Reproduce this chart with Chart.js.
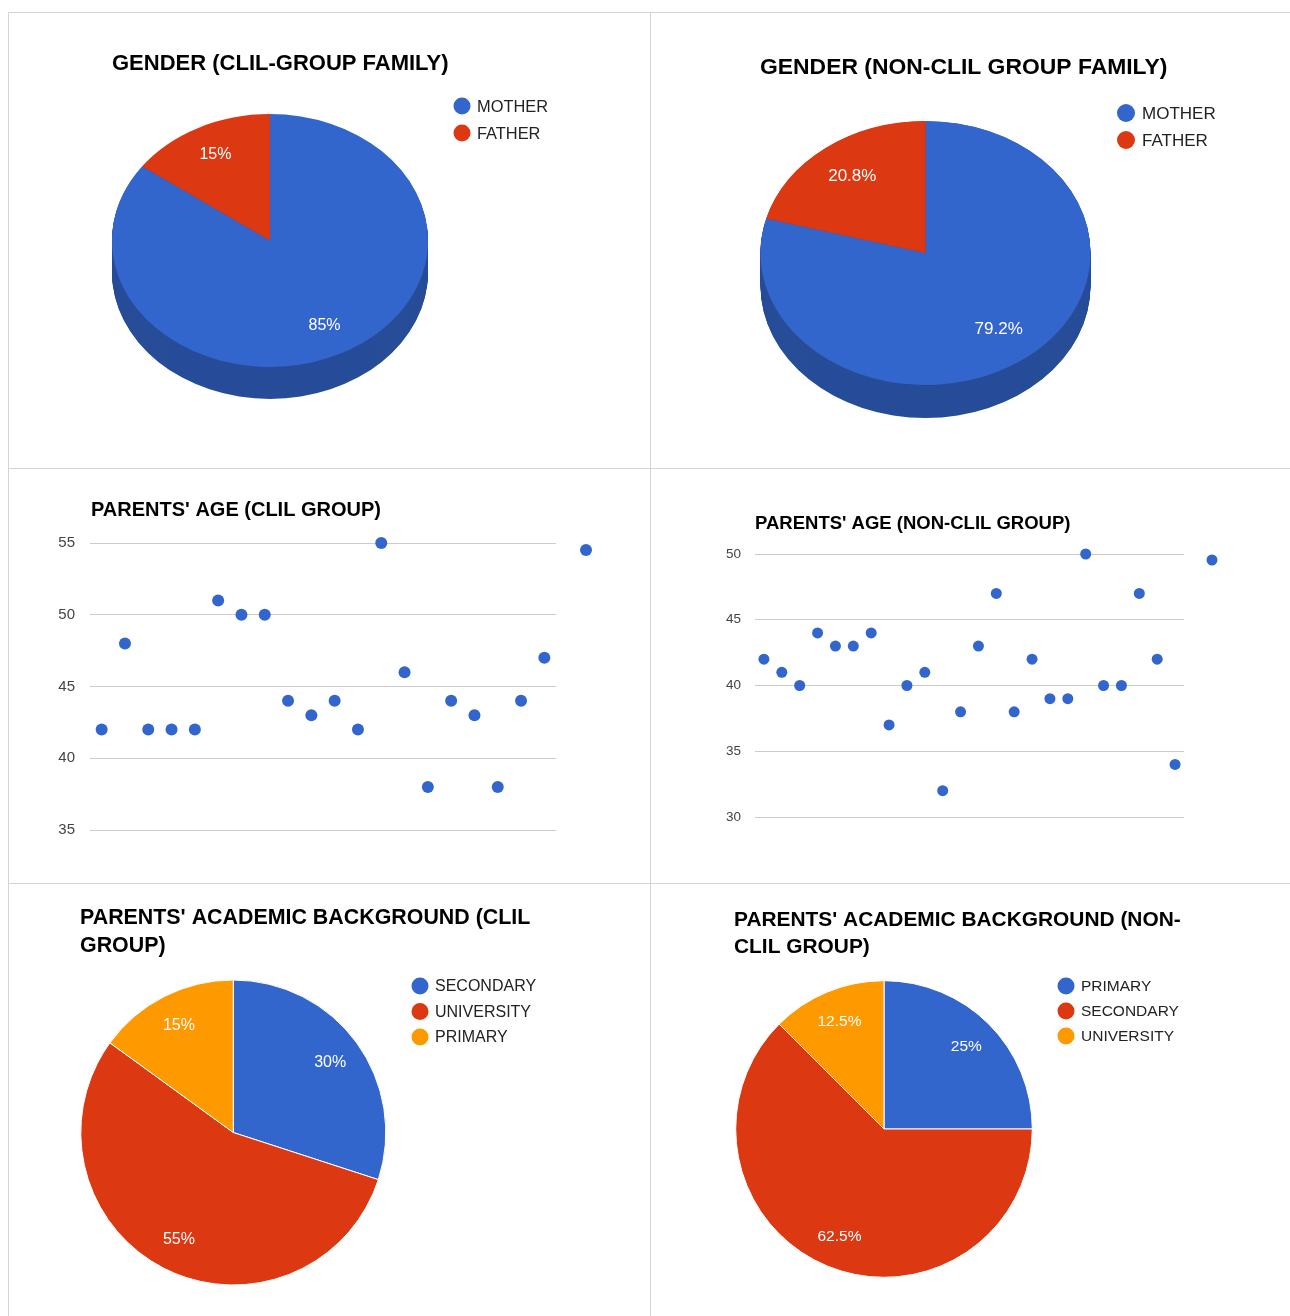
<!DOCTYPE html>
<html>
<head>
<meta charset="utf-8">
<script src="https://cdn.jsdelivr.net/npm/chart.js@4.4.1/dist/chart.umd.min.js"></script>
<style>
  body { margin: 0; background: #fff; }
  #page { position: relative; width: 1290px; height: 1316px; overflow: hidden; }
  .cell { position: absolute; }
  .line { position: absolute; background: #d4d4d4; z-index: 2; }
</style>
</head>
<body>
<div id="page">
  <div class="cell" style="left:8px;top:12px"><canvas id="genderClil" width="642" height="456"></canvas></div>
  <div class="cell" style="left:650px;top:12px"><canvas id="genderNonClil" width="640" height="456"></canvas></div>
  <div class="cell" style="left:8px;top:468px"><canvas id="ageClil" width="642" height="415"></canvas></div>
  <div class="cell" style="left:650px;top:468px"><canvas id="ageNonClil" width="640" height="415"></canvas></div>
  <div class="cell" style="left:8px;top:883px"><canvas id="eduClil" width="642" height="433"></canvas></div>
  <div class="cell" style="left:650px;top:883px"><canvas id="eduNonClil" width="640" height="433"></canvas></div>

  <div class="line" style="left:8px;top:12px;width:1282px;height:1px"></div>
  <div class="line" style="left:8px;top:468px;width:1282px;height:1px"></div>
  <div class="line" style="left:8px;top:883px;width:1282px;height:1px"></div>
  <div class="line" style="left:8px;top:12px;width:1px;height:1304px"></div>
  <div class="line" style="left:650px;top:12px;width:1px;height:1304px"></div>
</div>

<script>
// ---- data ----
const genderLabels = ["MOTHER", "FATHER"];
const genderClil = [85, 15];
const genderNonClil = [79.2, 20.8];

const ageClil = [42, 48, 42, 42, 42, 51, 50, 50, 44, 43, 44, 42, 55, 46, 38, 44, 43, 38, 44, 47];
const ageNonClil = [42, 41, 40, 44, 43, 43, 44, 37, 40, 41, 32, 38, 43, 47, 38, 42, 39, 39, 50, 40, 40, 47, 42, 34];
const ageClilTicks = [35, 40, 45, 50, 55];
const ageNonClilTicks = [30, 35, 40, 45, 50];

const eduClilLabels = ["SECONDARY", "UNIVERSITY", "PRIMARY"];
const eduClil = [30, 55, 15];
const eduNonClilLabels = ["PRIMARY", "SECONDARY", "UNIVERSITY"];
const eduNonClil = [25, 62.5, 12.5];

const BLUE = "#3366cc";
const RED = "#dc3912";
const ORANGE = "#ff9900";
const FONT = "'Liberation Sans', Arial, sans-serif";

// title drawn at a fixed spot, like the google chart header
const gTitle = {
  id: "gTitle",
  afterDraw(chart, args, o) {
    const ctx = chart.ctx;
    ctx.save();
    ctx.font = "bold " + o.size + "px " + FONT;
    ctx.fillStyle = "#000";
    ctx.textAlign = "left";
    ctx.textBaseline = "middle";
    o.lines.forEach((t, i) => ctx.fillText(t, o.x, o.y + i * (o.lineHeight || 0)));
    ctx.restore();
  }
};

// round-dot legend
const gLegend = {
  id: "gLegend",
  afterDraw(chart, args, o) {
    const ctx = chart.ctx;
    const ds = chart.data.datasets[0];
    let items;
    if (chart.config.type === "pie") {
      items = chart.data.labels.map((t, i) => ({ text: t, color: ds.backgroundColor[i] }));
    } else {
      items = chart.data.datasets.map(d => ({ text: d.label, color: d.backgroundColor }));
    }
    ctx.save();
    ctx.font = o.size + "px " + FONT;
    ctx.textBaseline = "middle";
    items.forEach((it, i) => {
      const y = o.y + i * (o.gap || 0);
      ctx.fillStyle = it.color;
      ctx.beginPath();
      ctx.arc(o.x, y, o.r, 0, Math.PI * 2);
      ctx.fill();
      ctx.fillStyle = "#222";
      ctx.fillText(it.text, o.x + o.textGap, y + 1);
    });
    ctx.restore();
  }
};

// squash the pie into an ellipse and give it a dark side
const pie3d = {
  id: "pie3d",
  beforeDatasetsDraw(chart, args, o) {
    if (!o.squash) return;
    const ctx = chart.ctx;
    const arcs = chart.getDatasetMeta(0).data;
    const cy = arcs[0].y;
    ctx.save();
    ctx.translate(0, cy);
    ctx.scale(1, o.squash);
    ctx.translate(0, -cy);
    const depth = o.depth / o.squash;
    for (let d = depth; d > 0; d -= 1) {
      arcs.forEach((a, i) => {
        ctx.fillStyle = o.sideColors[i];
        ctx.beginPath();
        ctx.moveTo(a.x, a.y + d);
        ctx.arc(a.x, a.y + d, a.outerRadius, a.startAngle, a.endAngle);
        ctx.closePath();
        ctx.fill();
      });
    }
  },
  afterDatasetsDraw(chart, args, o) {
    if (o.squash) chart.ctx.restore();
  }
};

// percentage text inside slices
const sliceLabels = {
  id: "sliceLabels",
  afterDraw(chart, args, o) {
    const ctx = chart.ctx;
    const arcs = chart.getDatasetMeta(0).data;
    const data = chart.data.datasets[0].data;
    const total = data.reduce((a, b) => a + b, 0);
    const squash = o.squash || 1;
    ctx.save();
    ctx.font = o.size + "px " + FONT;
    ctx.fillStyle = "#fff";
    ctx.textAlign = "center";
    ctx.textBaseline = "middle";
    arcs.forEach((a, i) => {
      const mid = (a.startAngle + a.endAngle) / 2;
      const r = a.outerRadius * o.k;
      const x = a.x + Math.cos(mid) * r;
      const y = a.y + Math.sin(mid) * r * squash;
      ctx.fillText(+(data[i] / total * 100).toFixed(1) + "%", x, y);
    });
    ctx.restore();
  }
};

function pieChart(id, labels, values, colors, padding, extra) {
  return new Chart(document.getElementById(id), {
    type: "pie",
    data: {
      labels: labels,
      datasets: [{
        data: values,
        backgroundColor: colors,
        borderColor: "#fff",
        borderWidth: extra.border,
        hoverOffset: 0,
        hoverBorderWidth: 0
      }]
    },
    options: {
      responsive: false,
      animation: false,
      events: [],
      layout: { padding: padding },
      plugins: {
        legend: { display: false },
        tooltip: { enabled: false },
        pie3d: extra.pie3d || {},
        sliceLabels: extra.labels,
        gTitle: extra.title,
        gLegend: extra.legend
      }
    },
    plugins: [pie3d, sliceLabels, gTitle, gLegend]
  });
}

function ageChart(id, ages, ticks, padding, extra) {
  return new Chart(document.getElementById(id), {
    type: "scatter",
    data: {
      datasets: [{
        label: "",
        data: ages.map((v, i) => ({ x: i + 1, y: v })),
        backgroundColor: BLUE,
        borderColor: BLUE,
        pointRadius: extra.pointRadius,
        pointBorderWidth: 0,
        clip: false
      }]
    },
    options: {
      responsive: false,
      animation: false,
      events: [],
      layout: { padding: padding },
      plugins: {
        legend: { display: false },
        tooltip: { enabled: false },
        gTitle: extra.title,
        gLegend: extra.legend
      },
      scales: {
        x: { type: "linear", min: 0.5, max: ages.length + 0.5, display: false },
        y: {
          min: ticks[0],
          max: ticks[ticks.length - 1],
          ticks: { stepSize: ticks[1] - ticks[0], padding: extra.tickPad, color: "#444", font: { family: FONT, size: extra.tickSize } },
          grid: { color: "#cccccc", drawTicks: false },
          border: { display: false },
          afterFit: (s) => { s.width = 40; }
        }
      }
    },
    plugins: [gTitle, gLegend]
  });
}

pieChart("genderClil", genderLabels, genderClil, [BLUE, RED],
  { left: 104, right: 222, top: 70.5, bottom: 69.5 },
  {
    border: 0,
    pie3d: { squash: 0.8, depth: 32, sideColors: ["#274d99", "#a52b0e"] },
    labels: { k: 0.76, squash: 0.8, size: 16 },
    title: { lines: ["GENDER (CLIL-GROUP FAMILY)"], x: 104, y: 51.5, size: 22 },
    legend: { x: 454, y: 94, gap: 27, r: 8.5, textGap: 15, size: 16.4 }
  });

pieChart("genderNonClil", genderLabels, genderNonClil, [BLUE, RED],
  { left: 110.5, right: 199.5, top: 76, bottom: 50 },
  {
    border: 0,
    pie3d: { squash: 0.8, depth: 33, sideColors: ["#274d99", "#a52b0e"] },
    labels: { k: 0.73, squash: 0.8, size: 17 },
    title: { lines: ["GENDER (NON-CLIL GROUP FAMILY)"], x: 110, y: 55.5, size: 22.9 },
    legend: { x: 476, y: 101, gap: 27, r: 9, textGap: 16, size: 17 }
  });

ageChart("ageClil", ageClil, ageClilTicks,
  { left: 42, right: 94, top: 75, bottom: 53 },
  {
    pointRadius: 6,
    tickPad: 15,
    tickSize: 15,
    title: { lines: ["PARENTS' AGE (CLIL GROUP)"], x: 83, y: 42, size: 20 },
    legend: { x: 578, y: 82, r: 6, textGap: 12, size: 15 }
  });

ageChart("ageNonClil", ageNonClil, ageNonClilTicks,
  { left: 65, right: 106, top: 86, bottom: 66 },
  {
    pointRadius: 5.5,
    tickPad: 14,
    tickSize: 13.5,
    title: { lines: ["PARENTS' AGE (NON-CLIL GROUP)"], x: 105, y: 55.5, size: 18.5 },
    legend: { x: 562, y: 92, r: 5.5, textGap: 12, size: 14 }
  });

pieChart("eduClil", eduClilLabels, eduClil, [BLUE, RED, ORANGE],
  { left: 72.3, right: 263.7, top: 96.5, bottom: 30.5 },
  {
    border: 1,
    labels: { k: 0.785, size: 16 },
    title: { lines: ["PARENTS' ACADEMIC BACKGROUND (CLIL", "GROUP)"], x: 72, y: 35.5, lineHeight: 28, size: 21.4 },
    legend: { x: 412, y: 103, gap: 25.5, r: 8.5, textGap: 15, size: 16 }
  });

pieChart("eduNonClil", eduNonClilLabels, eduNonClil, [BLUE, RED, ORANGE],
  { left: 85.2, right: 257.2, top: 97.2, bottom: 38.2 },
  {
    border: 1,
    labels: { k: 0.785, size: 15.5 },
    title: { lines: ["PARENTS' ACADEMIC BACKGROUND (NON-", "CLIL GROUP)"], x: 84, y: 37.5, lineHeight: 27, size: 20.9 },
    legend: { x: 416, y: 103, gap: 25, r: 8.5, textGap: 15, size: 15.5 }
  });
</script>
</body>
</html>
